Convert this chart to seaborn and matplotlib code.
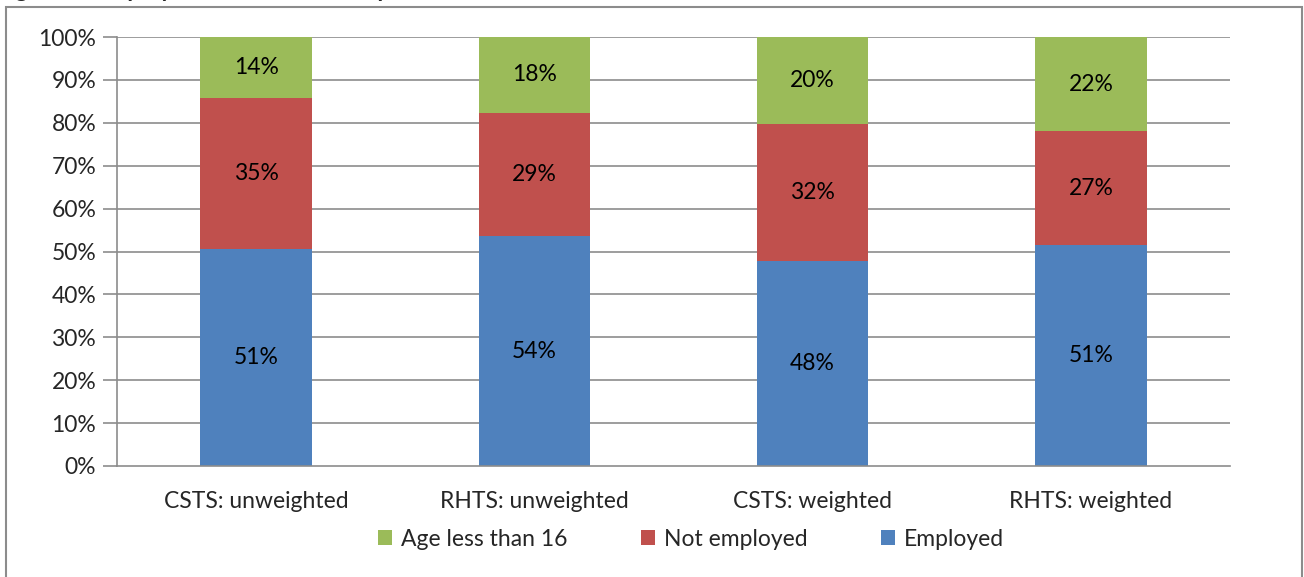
import matplotlib
matplotlib.use("Agg")
import matplotlib.pyplot as plt
import seaborn as sns
import pandas as pd
import numpy as np
from matplotlib.patches import Rectangle, Patch

categories = ["CSTS: unweighted", "RHTS: unweighted", "CSTS: weighted", "RHTS: weighted"]
employed = [50.6, 53.6, 47.8, 51.4]
not_employed = [35.2, 28.7, 31.9, 26.6]
age_lt16 = [14.2, 17.7, 20.3, 22.0]
series_names = ["Age less than 16", "Not employed", "Employed"]
colors = {"Employed": "#4F81BD", "Not employed": "#C0504D", "Age less than 16": "#9BBB59"}

sns.set_theme(style="white")
plt.rcParams["font.family"] = ["Lato", "DejaVu Sans"]
FS = 16.5

df = pd.DataFrame({
    "category": categories,
    "Employed": employed,
    "Not employed": not_employed,
    "Age less than 16": age_lt16,
})
df["cum_emp"] = df["Employed"]
df["cum_not"] = df["Employed"] + df["Not employed"]
df["cum_age"] = df["cum_not"] + df["Age less than 16"]

fig = plt.figure(figsize=(13.04, 5.77), dpi=100)
ax = fig.add_axes([117/1304, 1 - 466/577, (1230-117)/1304, (466-37)/577])

gridc = "#8C8C8C"
for y in range(10, 101, 10):
    ax.axhline(y, color=gridc, lw=1.2, zorder=0)

for col, name in [("cum_age", "Age less than 16"), ("cum_not", "Not employed"), ("cum_emp", "Employed")]:
    sns.barplot(data=df, x="category", y=col, color=colors[name], width=0.4,
                saturation=1, ax=ax, zorder=2, edgecolor="none", linewidth=0)

# labels
for i in range(len(categories)):
    segs = [(0, employed[i]), (employed[i], employed[i] + not_employed[i]),
            (employed[i] + not_employed[i], employed[i] + not_employed[i] + age_lt16[i])]
    vals = [employed[i], not_employed[i], age_lt16[i]]
    for (lo, hi), v in zip(segs, vals):
        ax.text(i, (lo + hi) / 2, f"{round(v):d}%", ha="center", va="center",
                fontsize=FS, color="black", zorder=5)

ax.set_ylim(0, 100)
ax.set_xlim(-0.5, 3.5)
ax.set_yticks(range(0, 101, 10))
ax.set_yticklabels([f"{v}%" for v in range(0, 101, 10)], fontsize=FS)
ax.set_xticks([-0.5, 0.5, 1.5, 2.5, 3.5])
ax.set_xticklabels([])
ax.set_xticks(range(4), minor=True)
ax.set_xticklabels(categories, minor=True, fontsize=FS)
ax.tick_params(axis="x", which="minor", length=0, pad=18)
ax.tick_params(axis="x", which="major", length=10, width=1.2, color=gridc, direction="out")
ax.tick_params(axis="y", length=10, width=1.2, color=gridc, direction="out", pad=5, left=True)
ax.set_xlabel("")
ax.set_ylabel("")
for s in ["top", "right"]:
    ax.spines[s].set_visible(False)
for s in ["left", "bottom"]:
    ax.spines[s].set_color(gridc)
    ax.spines[s].set_linewidth(1.2)

handles = [Patch(facecolor=colors[n], edgecolor="none") for n in series_names]
fig.legend(handles, series_names, loc="center", bbox_to_anchor=(0.530, 1 - 539/577),
           ncol=3, frameon=False, fontsize=FS, handlelength=0.6, handleheight=0.6,
           handletextpad=0.4, columnspacing=3.2)

# outer chart border
fig.patches.append(Rectangle((6/1304, -0.01), (1302-6)/1304, 1.01 - 7/577,
                             transform=fig.transFigure, fill=False,
                             edgecolor="#8C8C8C", lw=1.5))

# title, clipped at the top edge as in the reference
fig.text(-4/1304, 1 + 3/577, "Figure 3: Employment Status of Sample", fontsize=17,
         fontweight="bold", ha="left", va="baseline")

fig.savefig("out.png", dpi=100)
